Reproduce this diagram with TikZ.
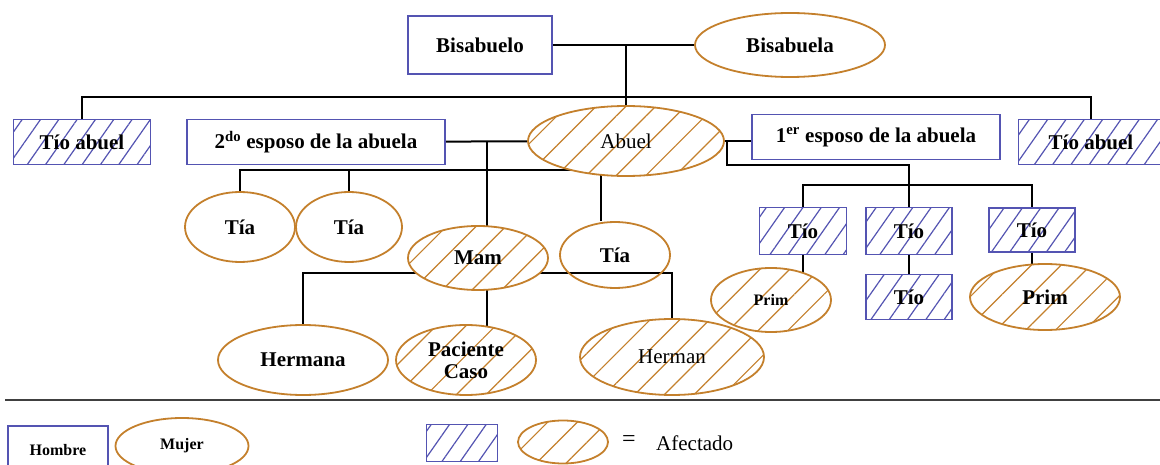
\documentclass[tikz,border=0pt]{standalone}
\usepackage{fontspec}
\setmainfont{Liberation Serif}
\usepackage{xcolor}
\usepackage{tikz}
\usetikzlibrary{patterns.meta}
\usetikzlibrary{shapes,backgrounds}

\definecolor{hombrecol}{RGB}{84,84,178}
\definecolor{mujercol}{RGB}{196,128,44}

\begin{document}
\begin{tikzpicture}[
    x=1pt, y=-1pt,
    every node/.style={
        inner sep=0pt,
        font=\fontsize{21}{22}\selectfont\bfseries
    },
    hombre/.style={
        rectangle,
        draw=hombrecol,
        line width=1.8pt,
        fill=white
    },
    mujer/.style={
        ellipse,
        draw=mujercol,
        line width=1.8pt,
        fill=white
    },
    hombreaf/.style={
        hombre,
        preaction={fill=white},
        pattern={Lines[angle=55,distance=15pt,line width=1.2pt]},
        pattern color=hombrecol
    },
    mujeraf/.style={
        mujer,
        preaction={fill=white},
        pattern={Lines[angle=45,distance=21pt,line width=1.2pt]},
        pattern color=mujercol
    },
    enlace/.style={
        line width=2pt,
        black
    }
]
    \useasboundingbox (0,0) rectangle (1160,465);

    \node[hombre, minimum width=144pt, minimum height=58pt] (bisabuelo) at (480,45) {Bisabuelo};
    \node[mujer, minimum width=190pt, minimum height=64pt] (bisabuela) at (790,45) {Bisabuela};

    \node[hombreaf, minimum width=137pt, minimum height=45pt] (tioabL) at (82,142) {Tío abuel};
    \node[hombre, minimum width=258pt, minimum height=45pt] (esposo2) at (316,142) {2\textsuperscript{do} esposo de la abuela};
    \node[mujeraf, minimum width=196pt, minimum height=70pt] (abuela) at (626,141) {\mdseries Abuel};
    \node[hombre, minimum width=248pt, minimum height=45pt] (esposo1) at (876,137) {1\textsuperscript{er} esposo de la abuela};
    \node[hombreaf, minimum width=145pt, minimum height=45pt] (tioabR) at (1091,142) {Tío abuel};

    \node[mujer, minimum width=110pt, minimum height=70pt] (tia1) at (240,227) {Tía};
    \node[mujer, minimum width=106pt, minimum height=70pt] (tia2) at (349,227) {Tía};
    \node[mujeraf, minimum width=140pt, minimum height=64pt] (mama) at (478,258) {Mam};
    \node[mujer, fill=none, minimum width=110pt, minimum height=66pt] (tia3) at (615,255) {Tía};

    \node[mujer, minimum width=170pt, minimum height=70pt] (hermana) at (303,360) {Hermana};
    \node[mujeraf, align=center, minimum width=140pt, minimum height=70pt] (paciente) at (466,360) {Paciente\\Caso};
    \node[mujeraf, minimum width=184pt, minimum height=76pt] (herman) at (672,357) {\mdseries Herman};

    \node[hombreaf, minimum width=87pt, minimum height=47pt] (tio1) at (803,231) {Tío};
    \node[hombreaf, minimum width=86pt, minimum height=47pt] (tio2) at (909,231) {Tío};
    \node[hombreaf, minimum width=86pt, minimum height=44pt] (tio3) at (1032,230) {Tío};
    \node[mujeraf, minimum width=120pt, minimum height=64pt] (prim1) at (771,300) {\fontsize{16}{17}\selectfont Prim};
    \node[hombreaf, minimum width=86pt, minimum height=45pt] (tio4) at (909,297) {Tío};
    \node[mujeraf, minimum width=150pt, minimum height=66pt] (prim2) at (1045,297) {Prim};

    \begin{scope}[on background layer]
        \coordinate (hermanos) at (626,97);
        \coordinate (hijos2) at (487,141);
        \coordinate (medios) at (600,170);
        \coordinate (hijos3) at (601,141);
        \coordinate (nietos) at (487,273);
        \coordinate (hijos1) at (727,141);
        \coordinate (primos) at (909,165);
        \coordinate (tios) at (909,185);

        \draw[enlace] (bisabuelo) -- (bisabuela);
        \draw[enlace] (bisabuelo -| abuela) -- (abuela);
        \draw[enlace] (tioabL) |- (hermanos) -| (tioabR);
        \draw[enlace] (esposo2) -- (abuela);
        \draw[enlace] (hijos2) -- (hijos2 |- paciente);
        \draw[enlace] (tia1) |- (medios);
        \draw[enlace] (tia2) -- (tia2 |- medios);
        \draw[enlace] (hijos3) -- (hijos3 |- tia3.north);
        \draw[enlace] (hermana) |- (nietos) -| (herman);
        \draw[enlace] (abuela) -- (esposo1 |- abuela);
        \draw[enlace] (hijos1) |- (primos) -- (tio2);
        \draw[enlace] (tio1) |- (tios) -| (tio3);
        \draw[enlace] (tio1) -- (tio1 |- prim1);
        \draw[enlace] (tio2) -- (tio4);
        \draw[enlace] (tio3) -- (tio3 |- prim2);
    \end{scope}

    \draw[
        line width=2.6pt,
        black!75
    ] (5,400) -- (1165,400);

    \node[hombre, font=\fontsize{16}{17}\selectfont\bfseries, minimum width=100pt, minimum height=48pt] (hombreley) at (58,450) {Hombre};
    \node[mujer, font=\fontsize{16}{17}\selectfont\bfseries, minimum width=133pt, minimum height=56pt] (mujerley) at (182,446) {Mujer};
    \node[hombreaf, minimum width=71pt, minimum height=37pt] (hombreafley) at (462,443) {};
    \node[mujeraf, minimum width=90pt, minimum height=43pt] (mujerafley) at (563,442) {};
    \node[font=\fontsize{24}{24}\selectfont] (igual) at (629,441) {=};
    \node[font=\fontsize{21}{22}\selectfont, anchor=west] (afectado) at (656,443) {Afectado};

\end{tikzpicture}
\end{document}
